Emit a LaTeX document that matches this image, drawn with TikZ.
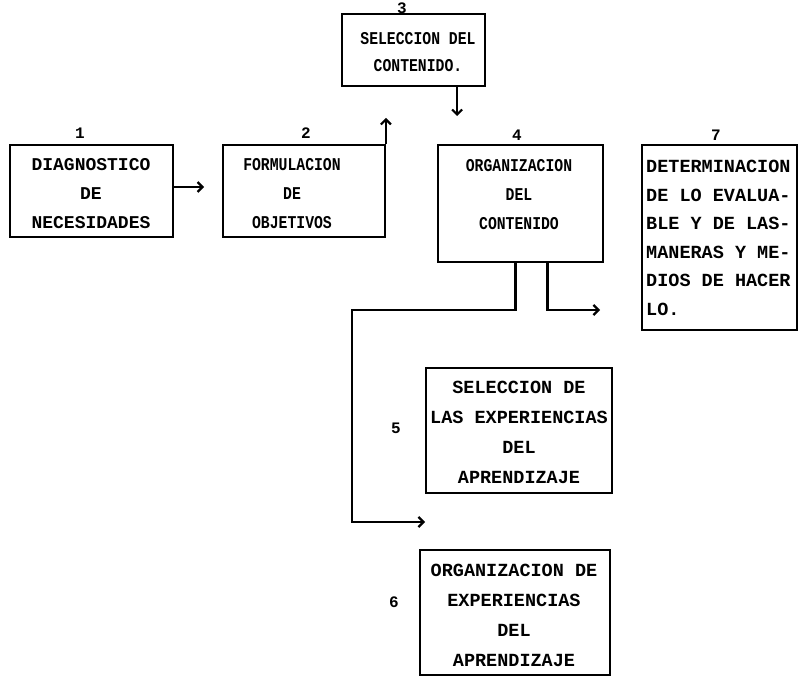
\documentclass[tikz,border=0pt]{standalone}
\usepackage{fontspec}
\setmonofont{Liberation Mono}
\newfontfamily\angosta[FakeStretch=0.82]{Liberation Mono}
\usepackage{tikz}
\usetikzlibrary{arrows.meta}
\tikzstyle{flecha} = [->,line width=2.2pt]
\tikzstyle{caja} = [draw,rectangle,line width=1.8pt,inner sep=0pt]
\tikzstyle{texto} = [align=center,inner sep=0pt,font=\ttfamily\bfseries\fontsize{18}{29}\selectfont]
\tikzstyle{estrecho} = [texto,font=\angosta\bfseries\fontsize{18}{29}\selectfont]
\tikzstyle{numero} = [inner sep=0pt,font=\ttfamily\bfseries\fontsize{16}{18}\selectfont]

\begin{document}
\begin{tikzpicture}[x=1pt,y=-1pt,>={Straight Barb[length=5pt,width=10pt]}]
	\useasboundingbox (0,0) rectangle (809,677);

	\node[caja,minimum width=163pt,minimum height=92pt] (caja1) at (91.5,191) {};
	\node[texto] (t1) at (91,194) {DIAGNOSTICO\\DE\\NECESIDADES};
	\node[numero] (n1) at (80,133) {1};

	\node[caja,minimum width=162pt,minimum height=92pt] (caja2) at (304,191) {};
	\node[estrecho] (t2) at (292,194) {FORMULACION\\DE\\OBJETIVOS};
	\node[numero] (n2) at (306,133) {2};

	\node[caja,minimum width=143pt,minimum height=72pt] (caja3) at (413.5,50) {};
	\node[estrecho,font=\angosta\bfseries\fontsize{18}{27}\selectfont] (t3) at (418,52) {SELECCION DEL\\CONTENIDO.};
	\node[numero] (n3) at (402,8) {3};

	\node[caja,minimum width=165pt,minimum height=117pt] (caja4) at (520.5,203.5) {};
	\node[estrecho] (t4) at (519,195) {ORGANIZACION\\DEL\\CONTENIDO};
	\node[numero] (n4) at (517,135) {4};

	\node[caja,minimum width=155pt,minimum height=185pt] (caja7) at (719.5,237.5) {};
	\node[texto,align=left,anchor=west,font=\ttfamily\bfseries\fontsize{18.5}{28.5}\selectfont] (t7) at (646,238)
	  {DETERMINACION\\DE LO EVALUA-\\BLE Y DE LAS-\\MANERAS Y ME-\\DIOS DE HACER\\LO.};
	\node[numero] (n7) at (716,135) {7};

	\node[caja,minimum width=186pt,minimum height=125pt] (caja5) at (519,430.5) {};
	\node[texto,font=\ttfamily\bfseries\fontsize{18.5}{30}\selectfont] (t5) at (519,432) {SELECCION DE\\LAS EXPERIENCIAS\\DEL\\APRENDIZAJE};
	\node[numero] (n5) at (396,428) {5};

	\node[caja,minimum width=190pt,minimum height=125pt] (caja6) at (515,612.5) {};
	\node[texto,font=\ttfamily\bfseries\fontsize{18.5}{30}\selectfont] (t6) at (514,615) {ORGANIZACION DE\\EXPERIENCIAS\\DEL\\APRENDIZAJE};
	\node[numero] (n6) at (394,602) {6};

	\coordinate (codo) at (352,310);
	\coordinate (fin6) at (425,522);
	\coordinate (fin7) at (600,310);

	\draw[flecha,shorten >=18pt] ([yshift=4pt]caja1.east) -- ([yshift=4pt]caja2.west);
	\draw[flecha,shorten >=31pt] (caja2.north east) -- (caja2.north east |- caja3.south);
	\draw[flecha,shorten >=28pt] ([xshift=20pt]caja4.north west |- caja3.south) -- ([xshift=20pt]caja4.north west);
	\draw[flecha] ([xshift=-5pt]caja4.south) |- (codo) |- (fin6);
	\draw[flecha] ([xshift=27pt]caja4.south) |- (fin7);

\end{tikzpicture}
\end{document}
